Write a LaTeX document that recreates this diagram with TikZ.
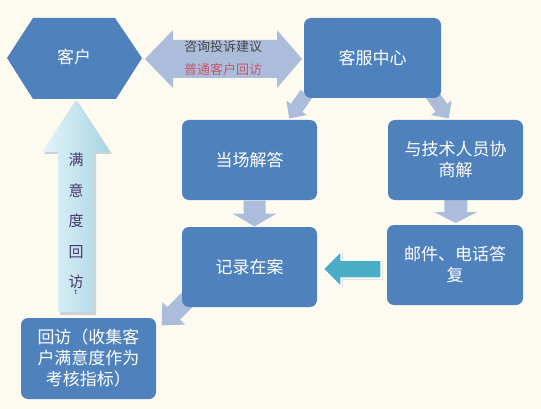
\documentclass[tikz,border=0pt]{standalone}
\usepackage{fontspec}
\setmainfont{Noto Sans CJK SC}
\usetikzlibrary{calc}
\definecolor{bg}{RGB}{253,251,240}
\definecolor{boxblue}{RGB}{79,129,189}
\definecolor{lightarr}{RGB}{172,189,220}
\definecolor{tealarr}{RGB}{75,172,198}
\definecolor{cyanlight}{RGB}{228,244,249}
\definecolor{cyandark}{RGB}{166,213,228}
\definecolor{vtextcol}{RGB}{72,55,105}
\definecolor{grytext}{RGB}{70,70,70}
\definecolor{redtext}{RGB}{200,85,100}
\definecolor{shadowcol}{RGB}{205,210,212}
\pgfdeclarelayer{bgl}
\pgfdeclarelayer{back}
\pgfsetlayers{bgl,back,main}
% #1 centre, #2 angle, #3 length, #4 shaft half width, #5 head half width, #6 head length, #7 style
\newcommand\blockarr[7]{%
  \begin{scope}[shift={#1},rotate=#2]
    \path[#7] ({-(#3)/2},{-(#4)}) -- ({(#3)/2-(#6)},{-(#4)}) -- ({(#3)/2-(#6)},{-(#5)})
      -- ({(#3)/2},0) -- ({(#3)/2-(#6)},{#5}) -- ({(#3)/2-(#6)},{#4}) -- ({-(#3)/2},{#4}) -- cycle;
  \end{scope}}
\tikzset{
  boxs/.style={fill=boxblue, rounded corners=7pt, minimum width=135pt, minimum height=80pt,
    text=white, font=\fontsize{17}{21}\selectfont, align=center, inner sep=0pt},
  larr/.style={fill=lightarr},
}
\begin{document}
\begin{tikzpicture}[x=1pt,y=-1pt]
\begin{pgfonlayer}{bgl}
\useasboundingbox[fill=bg] (0,0) rectangle (541,409);
\end{pgfonlayer}

% customer hexagon
\fill[boxblue] (7,58) -- (33,18) -- (115,18) -- (142,58) -- (116,99) -- (33,99) -- cycle;
\node[text=white, font=\fontsize{17}{21}\selectfont] (kehu) at (74,57) {客户};

% boxes
\node[boxs, minimum width=137pt] (kefu) at (372.5,58) {客服中心};
\node[boxs] (dangchang) at (249.5,160) {当场解答};
\node[boxs] (jishu) at (455.5,160) {与技术人员协\\商解};
\node[boxs] (jilu) at (249.5,267) {记录在案};
\node[boxs, minimum width=136pt] (youjian) at (455,265) {邮件、电话答\\复};
\node[boxs, minimum height=81pt] (huifang) at (88.5,358.5) {回访（收集客\\户满意度作为\\考核指标）};

\begin{pgfonlayer}{back}
  % double arrow between customer and service centre
  \fill[lightarr] (145,59) -- (173,30) -- (173,40) -- (277,40) -- (277,30) -- (302,59)
    -- (277,88) -- (277,78) -- (173,78) -- (173,88) -- cycle;
  % small diagonal arrows from service centre
  \blockarr{($(kefu.south west)+(-6,8)$)}{-125}{30}{7}{12.5}{13}{larr}
  \blockarr{($(kefu.south east)+(-1,8)$)}{-55}{30}{7}{12.5}{13}{larr}
  % down arrows
  \blockarr{($(dangchang.south)!0.5!(jilu.north)+(5,0)$)}{-90}{26}{11}{22}{13}{larr}
  \blockarr{($(jishu.south)!0.5!(youjian.north)+(0.5,-1)$)}{-90}{23}{11.5}{21.5}{11}{larr}
  % arrow from record to revisit
  \blockarr{($(jilu.south west)+(-6,4)$)}{-135}{40}{9}{16}{17}{larr}
  % teal left arrow (shadow + arrow)
  \blockarr{($(youjian.west)!0.5!(jilu.east)+(1.5,4.5)$)}{180}{58}{9}{18}{18}{fill=shadowcol}
  \blockarr{($(youjian.west)!0.5!(jilu.east)+(0,3)$)}{180}{58}{9}{18}{18}{fill=tealarr, draw=white, line width=1.5pt}
  % up arrow (satisfaction revisit)
  \fill[shadowcol] (78,102) -- (112,154) -- (96,154) -- (96,315) -- (60,315) -- (60,154) -- (44,154) -- cycle;
  \path[left color=cyanlight, right color=cyandark] (76,100) -- (110,152) -- (94,152) -- (94,312)
    -- (58,312) -- (58,152) -- (42,152) -- cycle;
\end{pgfonlayer}

% labels on double arrow
\node[font=\fontsize{13}{13}\selectfont, text=grytext] (t1) at (223,47) {咨询投诉建议};
\node[font=\fontsize{13}{13}\selectfont, text=redtext] (t2) at (223,70) {普通客户回访};

% vertical text on up arrow
\node[font=\fontsize{15}{30.5}\selectfont, text=vtextcol, align=center, inner sep=0pt] (vt) at (76,221) {满\\意\\度\\回\\访};
\node[font=\fontsize{7}{7}\selectfont, text=vtextcol, inner sep=0pt] (vt2) at (76,292) {t};
\end{tikzpicture}
\end{document}
